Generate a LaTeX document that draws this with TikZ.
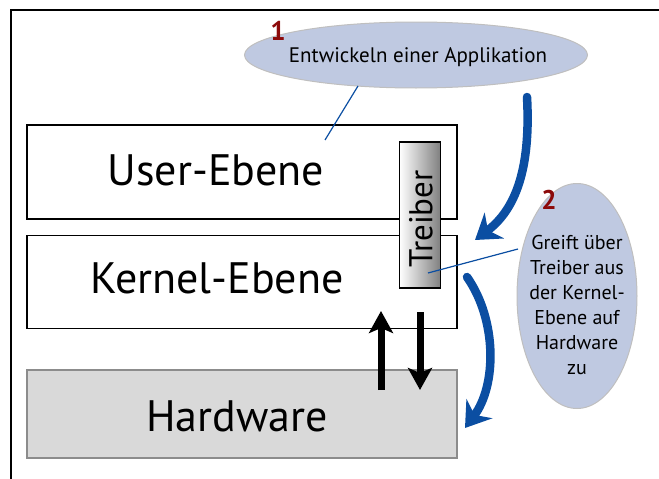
\documentclass[tikz,border=0pt]{standalone}
\usepackage{fontspec}
\setmainfont{PT Sans}
\usetikzlibrary{shapes.geometric,arrows.meta}

\definecolor{bubble}{RGB}{191,201,225}
\definecolor{arrowblue}{RGB}{11,78,162}
\definecolor{stepred}{RGB}{140,10,10}
\definecolor{hwgray}{RGB}{217,217,217}

\tikzset{
  layer/.style={draw, line width=1.4pt, minimum width=430pt, inner sep=0pt},
  big/.style={font=\fontsize{44}{44}\selectfont},
  note/.style={ellipse, draw=black!25, line width=1pt, fill=bubble, inner sep=0pt},
  stepno/.style={text=stepred, font=\fontsize{27}{27}\selectfont\bfseries},
  flow/.style={arrowblue, line width=8.5pt, -{Stealth[length=24pt,width=32pt]}},
  io/.style={line width=7pt, -{Stealth[length=22pt,width=24pt,inset=5pt]}},
}

\begin{document}
\begin{tikzpicture}[x=1pt,y=-1pt]
  \useasboundingbox (0,0) rectangle (659,479);
  % frame
  \draw[line width=2pt] (11,479) -- (11,10) -- (659,10);

  % layers
  \node[layer, minimum height=94pt] (user) at (242,172) {};
  \node[big] (usertxt) at (216,170) {User-Ebene};
  \node[layer, minimum height=93pt] (kernel) at (242,282) {};
  \node[big] (kerneltxt) at (217,278) {Kernel-Ebene};
  \node[layer, draw=black!45, fill=hwgray, minimum height=88pt] (hw) at (242,414) {};
  \node[big] (hwtxt) at (237,416) {Hardware};

  % driver
  \node[draw, line width=1.4pt, left color=white, right color=black!50,
        minimum width=41pt, minimum height=146pt, inner sep=0pt] (treiber) at (420,215) {};
  \node[rotate=90, font=\fontsize{33}{33}\selectfont] (treibertxt) at (421,219) {Treiber};

  % notes
  \node[note, minimum width=343pt, minimum height=66pt] (n1) at (416,55) {};
  \node[font=\fontsize{21}{21}\selectfont] (n1txt) at (418,57) {Entwickeln einer Applikation};
  \node[stepno] (s1) at (278,31) {1};

  \node[note, minimum width=120pt, minimum height=225pt] (n2) at (577,296) {};
  \node[align=center, font=\fontsize{20}{25}\selectfont] (n2txt) at (577,305)
    {Greift über\\Treiber aus\\der Kernel-\\Ebene auf\\Hardware\\zu};
  \node[stepno] (s2) at (549,200) {2};

  % pointers
  \coordinate (p1) at (325,140);
  \coordinate (p2) at (428,273);
  \draw[arrowblue, line width=1.2pt] (358,86) -- (p1);
  \draw[arrowblue, line width=1.2pt] (518,249) -- (p2);

  % flow arrows
  \coordinate (f1a) at (527,97);
  \coordinate (f1b) at (475,240);
  \coordinate (f2a) at (467,277);
  \coordinate (f2b) at (465,428);
  \draw[flow, line cap=round] (f1a) .. controls (531,170) and (515,210) .. (f1b);
  \draw[flow, line cap=round] (f2a) .. controls (497,320) and (497,385) .. (f2b);

  % kernel <-> hardware
  \coordinate (upa) at (381,390);
  \coordinate (upb) at (381,311);
  \coordinate (dna) at (420,312);
  \coordinate (dnb) at (420,390);
  \draw[io] (upa) -- (upb);
  \draw[io] (dna) -- (dnb);
\end{tikzpicture}
\end{document}
